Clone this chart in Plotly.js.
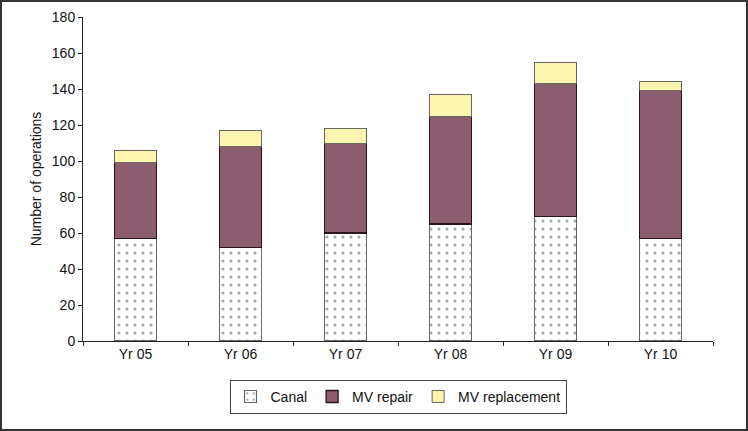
<!DOCTYPE html>
<html><head><meta charset="utf-8">
<script src="https://cdn.plot.ly/plotly-3.0.1.min.js"></script>
<style>
html,body{margin:0;padding:0;background:#fff;}
#frame{position:fixed;left:0;top:0;width:748px;height:431px;box-sizing:border-box;border:2px solid #333;pointer-events:none;z-index:10;}
</style>
</head><body>
<div id="chart" style="width:748px;height:431px;"></div>
<div id="frame"></div>
<script>
const categories = ['Yr 05','Yr 06','Yr 07','Yr 08','Yr 09','Yr 10'];
const canal = [57, 52, 60, 65, 69, 57];
const mvRepair = [42, 56, 50, 60, 74, 82];
const mvReplacement = [7, 9, 8, 12, 12, 5];

const traces = [
  {type:'bar', name:'Canal', x:categories, y:canal,
   marker:{color:'#ffffff', line:{color:'#666', width:1.2},
     pattern:{shape:'.', fgcolor:'#aaaaaa', bgcolor:'#ffffff', size:8, solidity:0.12}}},
  {type:'bar', name:'MV repair', x:categories, y:mvRepair,
   marker:{color:'#8c5d6f', line:{color:'#2a1418', width:1.3}}},
  {type:'bar', name:'MV replacement', x:categories, y:mvReplacement,
   marker:{color:'#fcf5ae', line:{color:'#666', width:1}}}
];

const layout = {
  width:748, height:431,
  margin:{l:83, r:35, t:17, b:90},
  barmode:'stack', bargap:0.6,
  paper_bgcolor:'#fff', plot_bgcolor:'#fff',
  font:{family:'Liberation Sans, Arial, sans-serif', size:14, color:'#111'},
  showlegend:true,
  legend:{orientation:'h', x:0.5, xanchor:'center', y:-0.12, yanchor:'top',
    bordercolor:'#444', borderwidth:1, font:{size:14}, traceorder:'normal',
    itemwidth:30},
  xaxis:{type:'category', showline:true, linecolor:'#222', linewidth:1,
    ticks:'outside', tickson:'boundaries', ticklen:4, tickcolor:'#222',
    showgrid:false, zeroline:false, tickfont:{size:14}},
  yaxis:{range:[0,180], dtick:20, showline:true, linecolor:'#222', linewidth:1,
    ticks:'outside', ticklen:4, tickcolor:'#222', showgrid:false, zeroline:false,
    tickfont:{size:14},
    title:{text:'Number of operations', font:{size:14}, standoff:6}}
};
Plotly.newPlot('chart', traces, layout, {displayModeBar:false, staticPlot:true});
</script>
</body></html>
